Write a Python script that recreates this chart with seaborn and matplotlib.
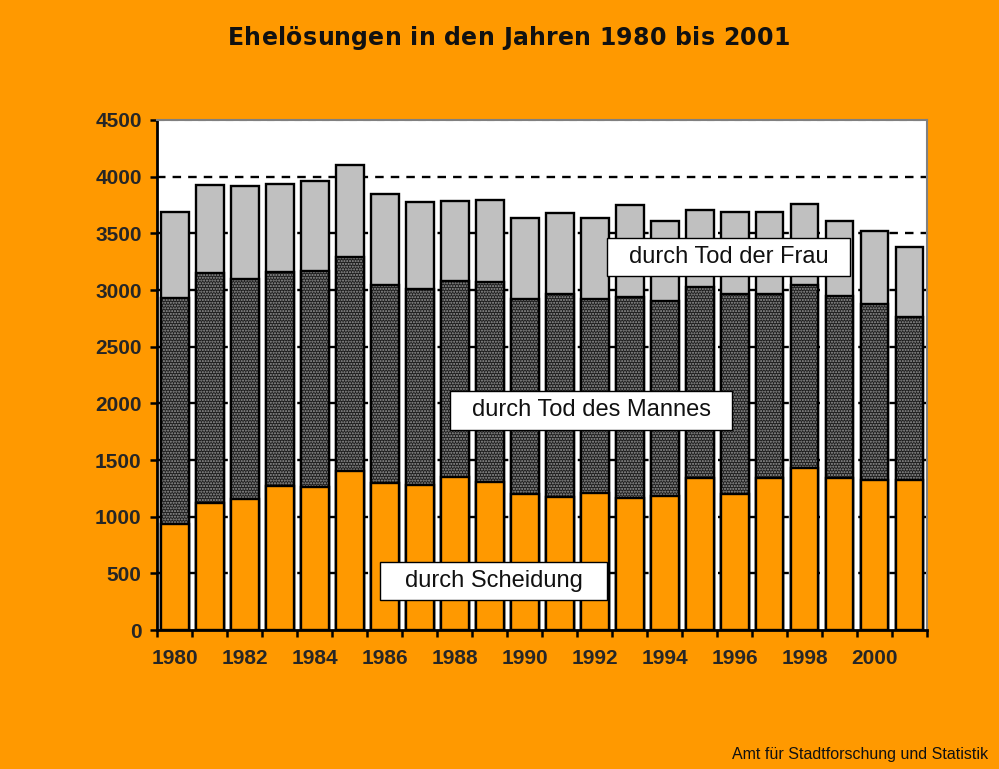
import matplotlib
matplotlib.use("Agg")
import matplotlib.pyplot as plt
from matplotlib.patches import Rectangle
import seaborn as sns
import numpy as np
import pandas as pd

years = list(range(1980, 2002))
scheidung = [935, 1118, 1159, 1268, 1262, 1406, 1300, 1279, 1347, 1309, 1197,
             1171, 1212, 1168, 1185, 1344, 1203, 1344, 1426, 1344, 1321, 1326]
tod_mann = [1997, 2032, 1938, 1891, 1906, 1882, 1747, 1730, 1735, 1762, 1724,
            1791, 1709, 1773, 1718, 1680, 1759, 1624, 1618, 1603, 1553, 1439]
tod_frau = [759, 777, 818, 776, 791, 818, 800, 770, 706, 723, 711,
            720, 717, 812, 703, 679, 723, 720, 715, 665, 650, 617]
y_ticks = [0, 500, 1000, 1500, 2000, 2500, 3000, 3500, 4000, 4500]

title = "Ehelösungen in den Jahren 1980 bis 2001"
source = "Amt für Stadtforschung und Statistik"
label_frau = "durch Tod der Frau"
label_mann = "durch Tod des Mannes"
label_scheidung = "durch Scheidung"

df = pd.DataFrame({"Jahr": [str(y) for y in years],
                   "Scheidung": scheidung,
                   "Mann": tod_mann,
                   "Frau": tod_frau})
df["cum2"] = df["Scheidung"] + df["Mann"]
df["total"] = df["cum2"] + df["Frau"]

sns.set_theme(style="white")
plt.rcParams["font.family"] = ["Liberation Sans", "DejaVu Sans"]
plt.rcParams["hatch.linewidth"] = 1.0

ORANGE = "#FF9900"
W, H = 999, 769
fig = plt.figure(figsize=(9.99, 7.69), dpi=100, facecolor=ORANGE)
ax = fig.add_axes([157 / W, 1 - 630 / H, 770 / W, 510 / H])
ax.set_facecolor("white")

lw = 1.7
for v in y_ticks[1:-1]:
    ax.axhline(v, color="black", lw=1.7, ls=(0, (3.6, 3.0)), zorder=0)
ax.axhline(y_ticks[-1], color="#888888", lw=1.5, ls=(0, (3.6, 3.0)), zorder=0)

sns.barplot(data=df, x="Jahr", y="total", color="#C0C0C0", saturation=1,
            width=0.8, edgecolor="black", linewidth=lw, ax=ax, zorder=2)
sns.barplot(data=df, x="Jahr", y="cum2", color="#1e1e1e", saturation=1,
            width=0.8, edgecolor="#9a9a9a", linewidth=0, hatch="......",
            ax=ax, zorder=3)
sns.barplot(data=df, x="Jahr", y="cum2", fill=False, width=0.8,
            edgecolor="black", linewidth=lw, ax=ax, zorder=4)
sns.barplot(data=df, x="Jahr", y="Scheidung", color=ORANGE, saturation=1,
            width=0.8, edgecolor="black", linewidth=lw, ax=ax, zorder=5)

ax.set_xlim(-0.5, len(years) - 0.5)
ax.set_ylim(0, 4500)
ax.set_yticks(y_ticks)
ax.set_yticklabels([str(v) for v in y_ticks], fontsize=15, fontweight="bold")
ax.tick_params(axis="y", which="major", direction="out", length=5, width=1.8,
               color="black", pad=6, left=True)

idx = np.arange(len(years))
ax.set_xticks(idx[::2])
ax.set_xticklabels([str(y) for y in years[::2]], fontsize=15, fontweight="bold")
ax.set_xticks(np.arange(len(years) + 1) - 0.5, minor=True)
ax.tick_params(axis="x", which="major", length=0, pad=14)
ax.tick_params(axis="x", which="minor", direction="out", length=5, width=1.8,
               color="black", bottom=True)
ax.set_xlabel("")
ax.set_ylabel("")

for s in ["left", "bottom"]:
    ax.spines[s].set_color("black")
    ax.spines[s].set_linewidth(2)
for s in ["top", "right"]:
    ax.spines[s].set_color("#808080")
    ax.spines[s].set_linewidth(1.5)

def box(x0, y0, x1, y1, text):
    fig.add_artist(Rectangle((x0 / W, 1 - y1 / H), (x1 - x0) / W, (y1 - y0) / H,
                             transform=fig.transFigure, facecolor="white",
                             edgecolor="black", lw=1.0, zorder=10))
    fig.text((x0 + x1) / 2 / W, 1 - (y0 + y1) / 2 / H, text, ha="center",
             va="center", fontsize=17, color="#111111", zorder=11)

box(607, 238, 850, 276, label_frau)
box(450, 391, 732, 430, label_mann)
box(380, 562, 607, 600, label_scheidung)

# letter-spaced title
renderer = fig.canvas.get_renderer()
title_kw = dict(fontsize=17, fontweight="bold", family="DejaVu Sans",
                color="#111111", va="center", ha="left")
target_left, target_right = 228, 790
widths = []
for ch in title:
    t = fig.text(0, 0, ch if ch != " " else "a a", **title_kw)
    w = t.get_window_extent(renderer).width
    if ch == " ":
        ta = fig.text(0, 0, "aa", **title_kw)
        w = w - ta.get_window_extent(renderer).width
        ta.remove()
    widths.append(w)
    t.remove()
gap = (target_right - target_left - sum(widths)) / (len(title) - 1)
x = target_left
for ch, w in zip(title, widths):
    if ch != " ":
        fig.text(x / W, 1 - 38 / H, ch, **title_kw)
    x += w + gap

fig.text(988 / W, 1 - 755 / H, source, ha="right", va="center", fontsize=11.5,
         color="#111111")

fig.savefig("out.png", dpi=100, facecolor=ORANGE)
